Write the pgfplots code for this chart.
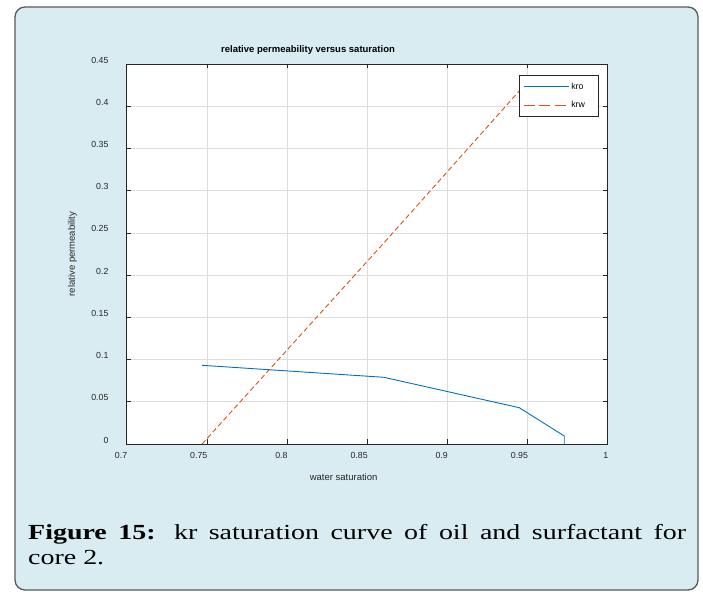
\documentclass[border=0pt]{standalone}
\usepackage{pgfplots}
\pgfplotsset{compat=1.18}
\usepackage{fontspec}
\setmainfont{Liberation Sans}
\newfontfamily\capfont[FakeStretch=1.3]{Liberation Serif}

\definecolor{panelbg}{RGB}{216,236,241}
\definecolor{mblue}{RGB}{0,114,189}
\definecolor{morange}{RGB}{217,83,25}
\definecolor{axgray}{RGB}{38,38,38}

\begin{document}
\begin{tikzpicture}[x=1pt,y=1pt]
\path[use as bounding box] (0,0) rectangle (703,591);
% figure panel
\draw[rounded corners=10pt, fill=panelbg, draw=black!65, line width=1.3pt] (15,1) rectangle (698,584);

\begin{axis}[
    at={(126.7pt,147pt)}, anchor=south west,
    scale only axis,
    width=481pt, height=380pt,
    xmin=0.7, xmax=1,
    ymin=0, ymax=0.45,
    xtick={0.7,0.75,0.8,0.85,0.9,0.95,1},
    ytick={0,0.05,0.1,0.15,0.2,0.25,0.3,0.35,0.4,0.45},
    /pgf/number format/assume math mode=true,
    /pgf/number format/fixed,
    tick align=inside,
    major tick length=4.5pt,
    tick style={axgray, line width=0.6pt},
    axis line style={axgray, line width=0.8pt},
    axis background/.style={fill=white},
    grid=major,
    grid style={black!13, line width=0.6pt},
    ticklabel style={font=\fontsize{8.8}{10}\selectfont, text=axgray},
    xticklabel style={anchor=north east, xshift=4pt, yshift=-5pt},
    yticklabel style={xshift=-14.7pt, yshift=4pt},
    title={relative permeability versus saturation},
    title style={at={(axis description cs:0.377,1.021)}, anchor=center,
        font=\bfseries\fontsize{9.5}{11}\selectfont},
    xlabel={water saturation},
    xlabel style={at={(axis description cs:0.451,-0.086)}, anchor=center,
        font=\fontsize{9.5}{11}\selectfont, text=axgray},
    ylabel={relative permeability},
    ylabel style={at={(axis description cs:-0.1127,0.5)}, anchor=center,
        font=\fontsize{9.5}{11}\selectfont, text=axgray},
    legend style={at={(axis description cs:0.8156,0.9703)}, anchor=north west,
        draw=axgray, line width=0.7pt, fill=white,
        font=\fontsize{8.8}{10}\selectfont,
        inner xsep=4pt, inner ysep=5pt, row sep=7pt,
        cells={anchor=west}},
    legend image code/.code={\draw[#1] (0pt,0pt) -- (45pt,0pt);},
]

% kro
\addplot[mblue, line width=0.9pt] coordinates {
    (0.747, 0.0932) (0.8604, 0.0790) (0.9448, 0.0430) (0.9729, 0.0095) (0.9729, 0)
};
\addlegendentry{\makebox[21pt][l]{kro}}

% krw
\addplot[morange, line width=0.9pt, dash pattern=on 5pt off 3pt,
    legend image post style={dash pattern=on 11pt off 4.5pt}] coordinates {
    (0.747, 0) (0.8604, 0.2381) (0.9448, 0.4180)
};
\addlegendentry{\makebox[21pt][l]{krw}}

\end{axis}

\node[anchor=base west, text width=658pt, align=justify, inner sep=0pt,
    font=\capfont\fontsize{21.5}{25}\selectfont] at (28,52)
    {\textbf{Figure 15:} kr saturation curve of oil and surfactant for\linebreak core 2.};
\end{tikzpicture}
\end{document}
